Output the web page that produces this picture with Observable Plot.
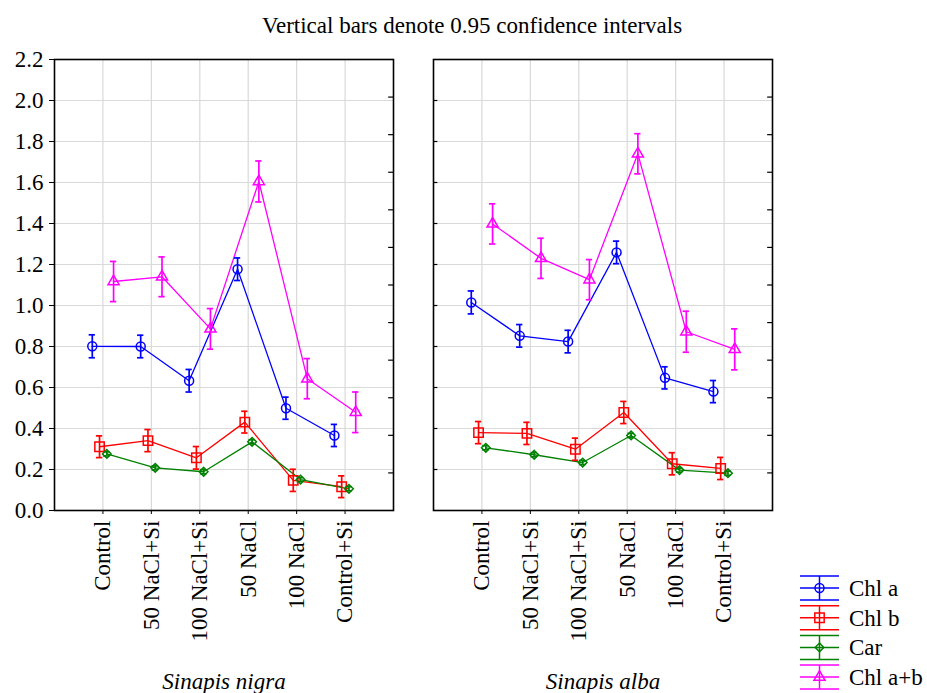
<!DOCTYPE html>
<html><head><meta charset="utf-8">
<script src="https://cdn.jsdelivr.net/npm/d3@7"></script>
<script src="https://cdn.jsdelivr.net/npm/@observablehq/plot@0.6"></script>
<style>
html,body{margin:0;padding:0;background:#fff;}
#chart{width:927px;height:693px;}
</style></head><body><div id="chart"></div>
<script>
// ---- data ----
const categories = ["Control", "50 NaCl+Si", "100 NaCl+Si", "50 NaCl", "100 NaCl", "Control+Si"];
const speciesNames = ["Sinapis nigra", "Sinapis alba"];
const seriesNames = ["Chl a", "Chl b", "Car", "Chl a+b"];
const seriesColors = ["#0000ff", "#ff0000", "#008000", "#ff00ff"];
const seriesSymbols = ["circle", "square", "diamond2", "triangle2"];
const seriesOffsets = [-0.22, -0.07, 0.08, 0.22];
const yTicks = [0, 0.2, 0.4, 0.6, 0.8, 1.0, 1.2, 1.4, 1.6, 1.8, 2.0, 2.2];
const title = "Vertical bars denote 0.95 confidence intervals";

// Sinapis nigra: means and 95% CI half-widths
const nigraChlA = [0.801, 0.800, 0.633, 1.177, 0.499, 0.366];
const nigraChlACi = [0.056, 0.055, 0.055, 0.055, 0.054, 0.054];
const nigraChlB = [0.311, 0.341, 0.257, 0.431, 0.147, 0.116];
const nigraChlBCi = [0.053, 0.054, 0.055, 0.053, 0.054, 0.053];
const nigraCar = [0.276, 0.208, 0.189, 0.335, 0.151, 0.106];
const nigraCarCi = [0.010, 0.010, 0.010, 0.010, 0.010, 0.010];
const nigraChlAB = [1.117, 1.140, 0.886, 1.605, 0.643, 0.479];
const nigraChlABCi = [0.098, 0.097, 0.099, 0.100, 0.098, 0.099];

// Sinapis alba
const albaChlA = [1.015, 0.852, 0.824, 1.259, 0.647, 0.580];
const albaChlACi = [0.056, 0.055, 0.055, 0.055, 0.054, 0.054];
const albaChlB = [0.380, 0.376, 0.299, 0.478, 0.228, 0.205];
const albaChlBCi = [0.054, 0.054, 0.054, 0.054, 0.054, 0.054];
const albaCar = [0.306, 0.272, 0.234, 0.366, 0.197, 0.182];
const albaCarCi = [0.010, 0.010, 0.010, 0.010, 0.010, 0.010];
const albaChlAB = [1.398, 1.230, 1.126, 1.740, 0.872, 0.786];
const albaChlABCi = [0.098, 0.098, 0.098, 0.098, 0.100, 0.100];

const speciesData = [
  [[nigraChlA, nigraChlACi], [nigraChlB, nigraChlBCi], [nigraCar, nigraCarCi], [nigraChlAB, nigraChlABCi]],
  [[albaChlA, albaChlACi], [albaChlB, albaChlBCi], [albaCar, albaCarCi], [albaChlAB, albaChlABCi]]
];

const rows = [];
speciesData.forEach((sd, si) => {
  sd.forEach(([vals, cis], k) => {
    vals.forEach((v, i) => {
      rows.push({
        species: speciesNames[si],
        series: seriesNames[k],
        cat: i + 1,
        x: i + 1 + seriesOffsets[k],
        value: v,
        lo: v - cis[i],
        hi: v + cis[i]
      });
    });
  });
});

const symbolR = [4.5, 5.3, 3.9, 5.3];
const capHalf = 0.065;
const FONT = "'Liberation Serif', 'Times New Roman', Times, serif";
const catIdx = categories.map((c, i) => i + 1);
const rightTicks = d3.range(1, 12).map(k => 2.2 * k / 12);

const plot = Plot.plot({
  width: 927,
  height: 693,
  marginTop: 59,
  marginBottom: 183,
  marginLeft: 53,
  marginRight: 154,
  style: {fontFamily: FONT, background: "white", color: "black"},
  fx: {domain: speciesNames, paddingInner: 0.10526, paddingOuter: 0, label: null},
  x: {domain: [0, 7], label: null},
  y: {domain: [0, 2.2], label: null},
  color: {domain: seriesNames, range: seriesColors},
  symbol: {domain: seriesNames, range: seriesSymbols},
  marks: [
    Plot.ruleX(catIdx, {x: d => d, stroke: "#d9d9d9", strokeWidth: 1.2}),
    Plot.ruleY(yTicks.slice(1, -1), {y: d => d, stroke: "#d9d9d9", strokeWidth: 1.2}),
    // inward ticks on the right panel's left edge
    Plot.ruleY(yTicks.slice(1, -1), {y: d => d, fx: () => speciesNames[1], x1: 0, x2: 0.09, stroke: "black", strokeWidth: 1.2}),
    // inward ticks on each panel's right edge
    Plot.ruleY(rightTicks, {y: d => d, x1: 6.9, x2: 7, stroke: "black", strokeWidth: 1.2}),
    Plot.line(rows, {x: "x", y: "value", fx: "species", z: "series", stroke: "series", strokeWidth: 1.3}),
    Plot.ruleX(rows, {x: "x", y1: "lo", y2: "hi", fx: "species", stroke: "series", strokeWidth: 1.7}),
    Plot.ruleY(rows, {y: "hi", x1: d => d.x - capHalf, x2: d => d.x + capHalf, fx: "species", stroke: "series", strokeWidth: 1.7}),
    Plot.ruleY(rows, {y: "lo", x1: d => d.x - capHalf, x2: d => d.x + capHalf, fx: "species", stroke: "series", strokeWidth: 1.7}),
    ...seriesNames.map((s, k) => Plot.dot(rows.filter(d => d.series === s), {
      x: "x", y: "value", fx: "species", stroke: "series", symbol: "series",
      r: symbolR[k], fill: "none", strokeWidth: 1.5
    })),
    Plot.frame({stroke: "black", strokeWidth: 1.6}),
    Plot.axisY({ticks: yTicks, tickFormat: d3.format(".1f"), tickSize: 5, tickPadding: 6, fontSize: 23, label: null}),
    Plot.axisX({ticks: catIdx, tickFormat: i => categories[i - 1], tickRotate: -90, tickSize: 4, tickPadding: 6, fontSize: 23, label: null}),
    Plot.axisFx({anchor: "bottom", tickSize: 0, tickPadding: 162, fontSize: 23, fontStyle: "italic", label: null})
  ]
});

document.getElementById("chart").appendChild(plot);

// title and legend
const svg = d3.select(plot);
svg.append("text")
  .attr("x", 472).attr("y", 33)
  .attr("text-anchor", "middle")
  .attr("font-family", FONT).attr("font-size", 23)
  .attr("fill", "black")
  .text(title);

const symMap = {circle: d3.symbolCircle, square: d3.symbolSquare, diamond2: d3.symbolDiamond2, triangle2: d3.symbolTriangle2};
const lg = svg.append("g").attr("class", "legend");
const lx0 = 800, lx1 = 839, lxm = (lx0 + lx1) / 2, ly0 = 588, lstep = 29.7, lcap = 12;
seriesNames.forEach((s, k) => {
  const yy = ly0 + k * lstep;
  const g = lg.append("g").attr("stroke", seriesColors[k]).attr("stroke-width", 1.5).attr("fill", "none");
  [yy - lcap, yy, yy + lcap].forEach(v => g.append("line").attr("x1", lx0).attr("x2", lx1).attr("y1", v).attr("y2", v));
  g.append("line").attr("x1", lxm).attr("x2", lxm).attr("y1", yy - lcap).attr("y2", yy + lcap);
  g.append("path").attr("transform", `translate(${lxm},${yy})`)
    .attr("d", d3.symbol(symMap[seriesSymbols[k]], Math.PI * symbolR[k] * symbolR[k])());
  lg.append("text").attr("x", 849).attr("y", yy + 8)
    .attr("text-anchor", "start")
    .attr("font-family", FONT).attr("font-size", 23).attr("fill", "black")
    .text(s);
});
</script>
</body></html>
